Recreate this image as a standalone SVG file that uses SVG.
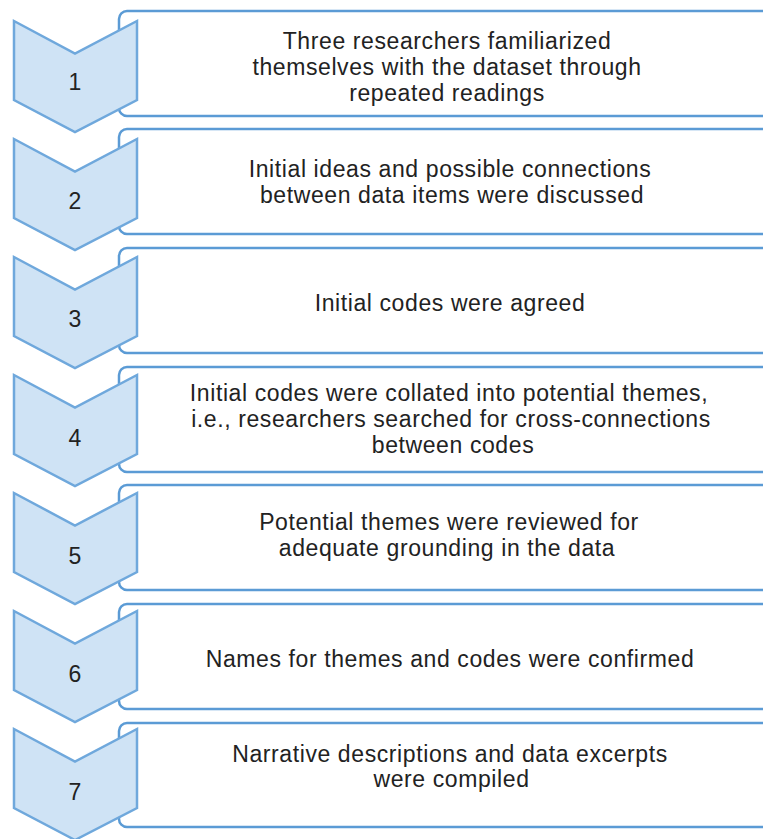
<svg xmlns="http://www.w3.org/2000/svg" width="763" height="839" viewBox="0 0 763 839">
<defs>
<style>
.box{fill:#ffffff;stroke:#5b9bd5;stroke-width:2.5}
.chev{fill:#cfe3f5;stroke:#6fa8dc;stroke-width:2.5;stroke-linejoin:miter}
.t{font-family:"Liberation Sans",Arial,sans-serif;font-size:23px;fill:#222222;text-anchor:middle;letter-spacing:0.6px}
.n{font-family:"Liberation Sans",Arial,sans-serif;font-size:23px;fill:#222222;text-anchor:middle}
</style>
<path id="chevShape" d="M14,0 L75,32.5 L137,0 L137,79 L75,111 L14,79 Z"/>
</defs>
<rect width="763" height="839" fill="#ffffff"/>
<g id="connectors"></g>
<g id="step1">
<rect class="box" x="119" y="11" width="680" height="105" rx="8"/>
<use href="#chevShape" class="chev" y="21"/>
<text class="n" x="75" y="90">1</text>
<text class="t" x="447" y="48.5">Three researchers familiarized</text>
<text class="t" x="447" y="74.5">themselves with the dataset through</text>
<text class="t" x="447" y="100.5">repeated readings</text>
</g>
<g id="step2">
<rect class="box" x="119" y="129" width="680" height="105" rx="8"/>
<use href="#chevShape" class="chev" y="139"/>
<text class="n" x="75" y="208.5">2</text>
<text class="t" x="450" y="177">Initial ideas and possible connections</text>
<text class="t" x="452" y="203">between data items were discussed</text>
</g>
<g id="step3">
<rect class="box" x="119" y="248" width="680" height="105" rx="8"/>
<use href="#chevShape" class="chev" y="257"/>
<text class="n" x="75" y="327">3</text>
<text class="t" x="450" y="311">Initial codes were agreed</text>
</g>
<g id="step4">
<rect class="box" x="119" y="367" width="680" height="105" rx="8"/>
<use href="#chevShape" class="chev" y="375"/>
<text class="n" x="75" y="445.5">4</text>
<text class="t" x="449" y="401">Initial codes were collated into potential themes,</text>
<text class="t" x="451" y="427">i.e., researchers searched for cross-connections</text>
<text class="t" x="453" y="453">between codes</text>
</g>
<g id="step5">
<rect class="box" x="119" y="485" width="680" height="105" rx="8"/>
<use href="#chevShape" class="chev" y="493"/>
<text class="n" x="75" y="563.5">5</text>
<text class="t" x="449" y="530">Potential themes were reviewed for</text>
<text class="t" x="447" y="555.5">adequate grounding in the data</text>
</g>
<g id="step6">
<rect class="box" x="119" y="604" width="680" height="105" rx="8"/>
<use href="#chevShape" class="chev" y="611"/>
<text class="n" x="75" y="682">6</text>
<text class="t" x="450" y="667">Names for themes and codes were confirmed</text>
</g>
<g id="step7">
<rect class="box" x="119" y="723" width="680" height="104" rx="8"/>
<use href="#chevShape" class="chev" y="729"/>
<text class="n" x="75" y="800">7</text>
<text class="t" x="450" y="762">Narrative descriptions and data excerpts</text>
<text class="t" x="451.5" y="787">were compiled</text>
</g>
</svg>
